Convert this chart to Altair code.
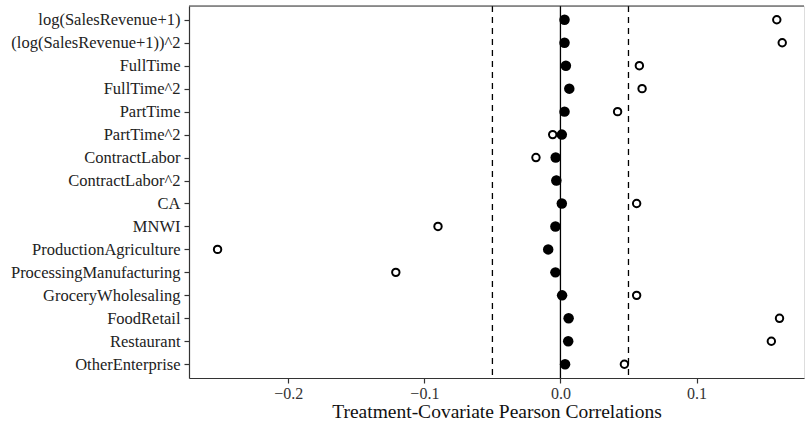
import altair as alt
import pandas as pd

covariates = [
    "log(SalesRevenue+1)", "(log(SalesRevenue+1))^2", "FullTime", "FullTime^2",
    "PartTime", "PartTime^2", "ContractLabor", "ContractLabor^2", "CA", "MNWI",
    "ProductionAgriculture", "ProcessingManufacturing", "GroceryWholesaling",
    "FoodRetail", "Restaurant", "OtherEnterprise",
]
adjusted = [0.003, 0.003, 0.004, 0.0065, 0.003, 0.001, -0.0035, -0.003, 0.001,
            -0.0037, -0.009, -0.0037, 0.0012, 0.006, 0.0057, 0.0034]
unadjusted = [0.159, 0.163, 0.058, 0.060, 0.042, -0.0057, -0.018, -0.003, 0.056,
              -0.090, -0.252, -0.121, 0.056, 0.161, 0.155, 0.047]
ref_lines = [-0.05, 0.05]
zero_line = [0.0]
x_ticks = [-0.2, -0.1, 0.0, 0.1]

df = pd.DataFrame({"cov": covariates, "adj": adjusted, "unadj": unadjusted})
ref_df = pd.DataFrame({"x": ref_lines})
zero_df = pd.DataFrame({"x": zero_line})

W, H = 615, 372
FONT = "Liberation Serif"

xscale = alt.Scale(domain=[-0.273, 0.179], nice=False, zero=False)
xaxis = alt.Axis(values=x_ticks, format=".1f", title="Treatment-Covariate Pearson Correlations",
                 grid=False, labelFontSize=16, titleFontSize=19.5, labelColor="#333333",
                 titleColor="#111111", labelFont=FONT, titleFont=FONT, titleFontWeight="normal",
                 tickColor="#333333", domainColor="#333333", tickSize=5, labelPadding=2,
                 titlePadding=1, domainWidth=1.2, tickWidth=1.2)
yscale = alt.Scale(domain=covariates, padding=0.6)
yaxis = alt.Axis(title=None, grid=False, labelFontSize=16.5, labelColor="#222222", labelFont=FONT,
                 tickColor="#333333", domainColor="#333333", tickSize=5, labelPadding=4,
                 domainWidth=1.2, tickWidth=1.2)

dashed = alt.Chart(ref_df).mark_rule(color="black", strokeDash=[6, 5], strokeWidth=1.3).encode(
    x=alt.X("x:Q", scale=xscale, axis=xaxis)
)
zero = alt.Chart(zero_df).mark_rule(color="black", strokeWidth=1.3).encode(
    x=alt.X("x:Q", scale=xscale, axis=xaxis)
)
top = alt.Chart(zero_df).mark_rule(color="#333333", strokeWidth=1.2).encode(
    x=alt.value(0), x2=alt.value(W), y=alt.value(0)
)
open_pts = alt.Chart(df).mark_point(shape="circle", filled=False, color="black",
                                    strokeWidth=2, size=55, opacity=1).encode(
    x=alt.X("unadj:Q", scale=xscale, axis=xaxis),
    y=alt.Y("cov:N", scale=yscale, axis=yaxis, sort=covariates),
)
filled_pts = alt.Chart(df).mark_point(shape="circle", filled=True, color="black",
                                      size=110, opacity=1).encode(
    x=alt.X("adj:Q", scale=xscale, axis=xaxis),
    y=alt.Y("cov:N", scale=yscale, axis=yaxis, sort=covariates),
)

chart = alt.layer(dashed, zero, top, open_pts, filled_pts).properties(
    width=W, height=H,
    autosize=alt.AutoSizeParams(type="none"),
    padding={"left": 189, "top": 6, "right": 1, "bottom": 46},
).configure_view(stroke=None).configure(background="white")

chart.save("out.html", embed_options={"renderer": "svg", "actions": False})
